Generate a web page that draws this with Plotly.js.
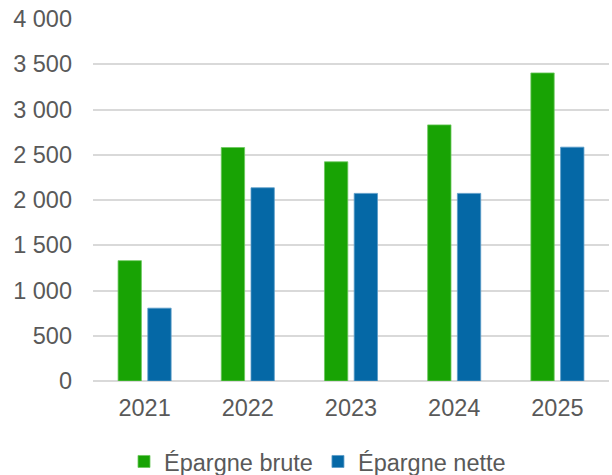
<!DOCTYPE html>
<html>
<head>
<meta charset="utf-8">
<script src="https://cdn.plot.ly/plotly-3.0.1.min.js"></script>
<style>html,body{margin:0;padding:0;background:#fff;}#chart{width:612px;height:475px;}</style>
</head>
<body>
<div id="chart"></div>
<script>
const years = ['2021', '2022', '2023', '2024', '2025'];
const epargneBrute = [1330, 2580, 2422, 2830, 3404];
const epargneNette = [805, 2135, 2073, 2073, 2584];
const seriesNames = ['Épargne brute', 'Épargne nette'];
const yTicks = [0, 500, 1000, 1500, 2000, 2500, 3000, 3500, 4000];

const font = 'Liberation Sans, Arial, sans-serif';
const textColor = '#595959';

const traces = [
  {
    type: 'bar', x: years, y: epargneBrute, name: seriesNames[0],
    marker: {color: '#18A304', line: {color: '#6CC85E', width: 0.8}},
    hoverinfo: 'none'
  },
  {
    type: 'bar', x: years, y: epargneNette, name: seriesNames[1],
    marker: {color: '#0568A6', line: {color: '#5A9CC8', width: 0.8}},
    hoverinfo: 'none'
  }
];

const layout = {
  width: 612, height: 475,
  margin: {l: 93, r: 3, t: 19, b: 94},
  paper_bgcolor: '#fff', plot_bgcolor: '#fff',
  separators: ', ',
  barmode: 'group',
  bargap: 0.424,
  bargroupgap: 0.215,
  font: {family: font, size: 23.5, color: textColor},
  xaxis: {
    type: 'category',
    showgrid: false, zeroline: false, showline: false,
    ticks: '', ticklabelstandoff: 10,
    tickfont: {family: font, size: 23.5, color: textColor}
  },
  yaxis: {
    range: [0, 4000],
    tickmode: 'array', tickvals: yTicks, tickformat: ',d',
    showgrid: true, gridcolor: '#D9D9D9', gridwidth: 2,
    zeroline: true, zerolinecolor: '#D9D9D9', zerolinewidth: 2,
    showline: false, ticks: '', ticklabelstandoff: 20,
    tickfont: {family: font, size: 23.5, color: textColor}
  },
  showlegend: true,
  legend: {
    orientation: 'h',
    xref: 'container', yref: 'container',
    x: 124 / 612, xanchor: 'left',
    y: 1 - 461.7 / 475, yanchor: 'middle',
    font: {family: font, size: 23.5, color: textColor},
    itemwidth: 30, tracegroupgap: 0,
    bgcolor: 'rgba(0,0,0,0)'
  }
};

Plotly.newPlot('chart', traces, layout, {displayModeBar: false, staticPlot: true});
</script>
</body>
</html>
